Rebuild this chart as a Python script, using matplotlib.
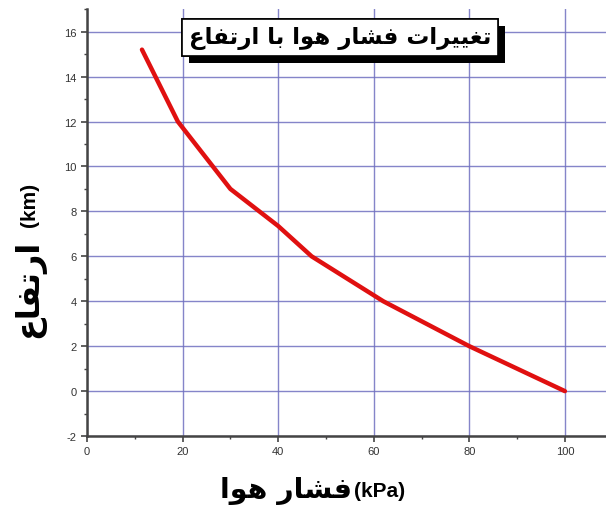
import numpy as np
import matplotlib.pyplot as plt
from matplotlib import patheffects
from matplotlib.ticker import MultipleLocator

plt.rcParams['axes.unicode_minus'] = False

# data
pressure = [11.5, 19, 30, 40, 47, 62, 80, 100]      # kPa
altitude = [15.2, 12, 9, 7.35, 6, 4, 2, 0]           # km

x_ticks = [0, 20, 40, 60, 80, 100]
y_ticks = [-2, 0, 2, 4, 6, 8, 10, 12, 14, 16]

title_txt = "تغییرات فشار هوا با ارتفاع"
xlabel_txt = "فشار هوا"
ylabel_txt = "ارتفاع"
xunit = "(kPa)"
yunit = "(km)"

# minimal arabic shaping (matplotlib has no bidi / joining)
# letter: (isolated, final, initial, medial) ; 2-form letters join only to the right
FORMS = {
    "ا": ("\uFE8D", "\uFE8E"),
    "ب": ("\uFE8F", "\uFE90", "\uFE91", "\uFE92"),
    "ت": ("\uFE95", "\uFE96", "\uFE97", "\uFE98"),
    "ر": ("\uFEAD", "\uFEAE"),
    "ش": ("\uFEB5", "\uFEB6", "\uFEB7", "\uFEB8"),
    "ع": ("\uFEC9", "\uFECA", "\uFECB", "\uFECC"),
    "غ": ("\uFECD", "\uFECE", "\uFECF", "\uFED0"),
    "ف": ("\uFED1", "\uFED2", "\uFED3", "\uFED4"),
    "ه": ("\uFEE9", "\uFEEA", "\uFEEB", "\uFEEC"),
    "و": ("\uFEED", "\uFEEE"),
    "ی": ("\uFBFC", "\uFBFD", "\uFBFE", "\uFBFF"),
}


def shape(s):
    out = []
    for i, c in enumerate(s):
        if c not in FORMS:
            out.append(c)
            continue
        prev = s[i-1] if i > 0 else " "
        nxt = s[i+1] if i < len(s)-1 else " "
        jp = prev in FORMS and len(FORMS[prev]) == 4
        jn = len(FORMS[c]) == 4 and nxt in FORMS
        f = FORMS[c]
        if jp and jn:
            out.append(f[3])
        elif jp:
            out.append(f[1])
        elif jn:
            out.append(f[2])
        else:
            out.append(f[0])
    return "".join(out)[::-1]  # visual order


AR_FONT = ["DejaVu Sans"]

fig = plt.figure(figsize=(6.06, 5.10), dpi=100)
ax = fig.add_axes([0.1436, 0.143, 0.8564, 0.837])

ax.plot(pressure, altitude, color="#e01010", linewidth=3.2, solid_capstyle="round", zorder=3)

ax.set_xlim(0, 108.6)
ax.set_ylim(-2, 17)
ax.set_xticks(x_ticks)
ax.set_yticks(y_ticks)
ax.xaxis.set_minor_locator(MultipleLocator(10))
ax.yaxis.set_minor_locator(MultipleLocator(1))
ax.grid(True, which="major", color="#7070c0", linewidth=1.0, alpha=0.85)
ax.set_axisbelow(True)

for sp in ["top", "right"]:
    ax.spines[sp].set_visible(False)
for sp in ["left", "bottom"]:
    ax.spines[sp].set_color("#444444")
    ax.spines[sp].set_linewidth(1.8)

ax.tick_params(which="major", direction="out", length=4, width=1.2, colors="#444444",
               labelsize=8, labelcolor="#333333")
ax.tick_params(which="minor", direction="out", length=2.5, width=1.0, colors="#444444")
for lab in ax.get_xticklabels() + ax.get_yticklabels():
    lab.set_family("Liberation Sans")

# title box with black shadow
t = ax.text(53, 15.75, shape(title_txt), family=AR_FONT, fontsize=16.5, fontweight="bold",
            ha="center", va="center", zorder=5,
            bbox=dict(boxstyle="square,pad=0.3", facecolor="white", edgecolor="black",
                      linewidth=1.2))
t.get_bbox_patch().set_path_effects([
    patheffects.withSimplePatchShadow(offset=(5, -5), shadow_rgbFace="black", alpha=1.0),
    patheffects.Normal()])

# axis labels: arabic word + unit in smaller bold
fig.text(352 / 606, 1 - 491 / 510, shape(xlabel_txt), family=AR_FONT, fontsize=20.5,
         fontweight="bold", ha="right", va="center")
fig.text(354 / 606, 1 - 492 / 510, xunit, family="Liberation Sans", fontsize=15,
         fontweight="bold", ha="left", va="center")
fig.text(29 / 606, 1 - 289 / 510, shape(ylabel_txt), family=AR_FONT, fontsize=23,
         fontweight="bold", ha="center", va="center", rotation=90)
fig.text(29 / 606, 1 - 227 / 510, yunit, family="Liberation Sans", fontsize=15,
         fontweight="bold", ha="center", va="bottom", rotation=90)

fig.savefig("out.png", dpi=100)
